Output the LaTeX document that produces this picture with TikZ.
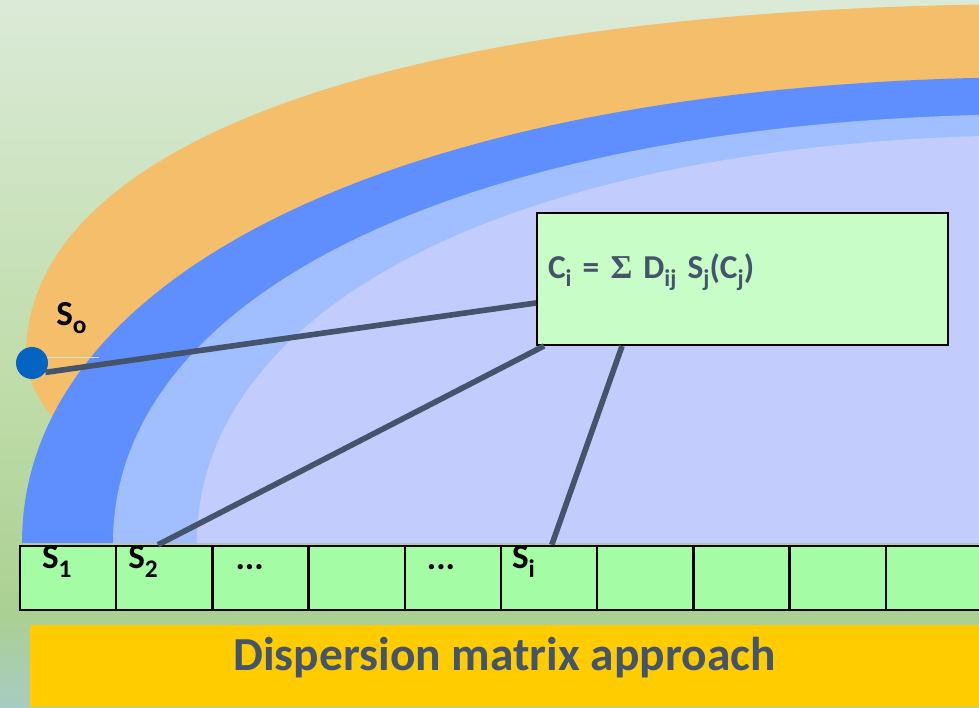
\documentclass[tikz,border=0pt]{standalone}
\usepackage{fontspec}
\setmainfont{Carlito}
\newfontfamily\sigmafont{Liberation Serif}
\usetikzlibrary{calc,positioning}

\definecolor{slate}{HTML}{44546A}
\definecolor{bandorange}{HTML}{F4BE6A}
\definecolor{banddeep}{HTML}{5F8FFE}
\definecolor{bandlight}{HTML}{A1BFFE}
\definecolor{bandcore}{HTML}{C2CDFE}
\definecolor{boxgreen}{HTML}{C8FDC8}
\definecolor{cellgreen}{HTML}{A4FDA4}
\definecolor{titleyellow}{HTML}{FFCC00}
\definecolor{dotblue}{HTML}{0563C1}
\definecolor{bgtop}{HTML}{DBEAD7}
\definecolor{bgmid}{HTML}{BEDCA8}
\definecolor{bglow}{HTML}{ABD093}
\definecolor{bgfoot}{HTML}{A7CCC2}

\pgfdeclareverticalshading{fieldbg}{100bp}{color(0bp)=(bgfoot); color(25bp)=(bgfoot); color(31.5bp)=(bglow); color(47bp)=(bgmid); color(75bp)=(bgtop); color(100bp)=(bgtop)}

\newcommand{\dn}[1]{\raisebox{-0.25em}{\scalebox{0.72}{#1}}}

\begin{document}
\begin{tikzpicture}[x=0.02cm,y=-0.02cm,
  conn/.style={draw=slate,line width=3.2pt},
  cell/.style={draw=black,line width=1.4pt,fill=cellgreen,minimum width=1.924cm,minimum height=1.28cm,inner sep=0pt},
  slabel/.style={font=\bfseries\fontsize{20}{22}\selectfont,text=black,inner sep=0pt},
  eqbox/.style={draw=black,line width=1.1pt,fill=boxgreen,minimum width=8.22cm,minimum height=2.64cm,
    text width=7.78cm,inner xsep=0.22cm,inner ysep=0pt,text height=0.3cm,text depth=0.34cm,
    font=\bfseries\fontsize{19}{21}\selectfont,text=slate},
  banner/.style={fill=titleyellow,minimum width=18.98cm,minimum height=1.64cm,inner sep=0pt,
    text height=0.52cm,text depth=0.36cm,font=\bfseries\fontsize{27}{30}\selectfont,text=slate}]

\useasboundingbox (0,0) rectangle (979,707);
\clip (0,0) rectangle (979,707);

% Background
\shade[shading=fieldbg] (0,0) rectangle (979,707);

% Bands around the field
\fill[bandorange] (26,355) .. controls (26,137) and (415,4) .. (1050,4) -- (1050,543) -- (120,543) -- (75,445)
  .. controls (45,410) and (26,385) .. (26,355) -- cycle;
\fill[banddeep] (22,543) .. controls (22,261) and (433,77) .. (1050,77) -- (1050,543) -- cycle;
\fill[bandlight] (113,543) .. controls (113,285) and (488,114) .. (1050,114) -- (1050,543) -- cycle;
\fill[bandcore] (197,543) .. controls (197,297) and (538,135) .. (1050,135) -- (1050,543) -- cycle;

% Source point
\node[circle,fill=dotblue,minimum size=0.64cm,inner sep=0pt] (so) at (32,363) {};
\node[slabel,anchor=base west] (solabel) at (56,325) {S\dn{o}};
\draw[draw=bgtop!70!bgmid,line width=0.6pt] (so.20) -- ++(52,0);

% Equation box
\node[eqbox] (eq) at (742.5,279) {C\dn{i} = {\sigmafont Σ} D\dn{ij} S\dn{j}(C\dn{j})};

% Tape of cells
\foreach \i in {1,...,10}
{
\node[cell] (c\i) at ({68.1+96.2*(\i-1)},578) {};
}
\node[slabel,anchor=base west] (s1) at ($(c1.north west)+(23,24)$) {S\dn{1}};
\node[slabel,anchor=base west] (s2) at ($(c2.north west)+(13,24)$) {S\dn{2}};
\node[slabel,anchor=base west] (dots1) at ($(c3.north west)+(24,25)$) {...};
\node[slabel,anchor=base west] (dots2) at ($(c5.north west)+(23,25)$) {...};
\node[slabel,anchor=base west] (si) at ($(c6.north west)+(12,24)$) {S\dn{i}};

% Connectors
\draw[conn] (so.-35) -- ($(eq.south west)+(0,-43)$);
\draw[conn] ($(c2.north west)+(43,0)$) -- ($(eq.south west)+(8,0)$);
\draw[conn] ($(c6.north west)+(52,0)$) -- ($(eq.south west)+(86,0)$);

% Title bar
\node[banner] (title) at (504.5,666) {Dispersion matrix approach};

\end{tikzpicture}
\end{document}
